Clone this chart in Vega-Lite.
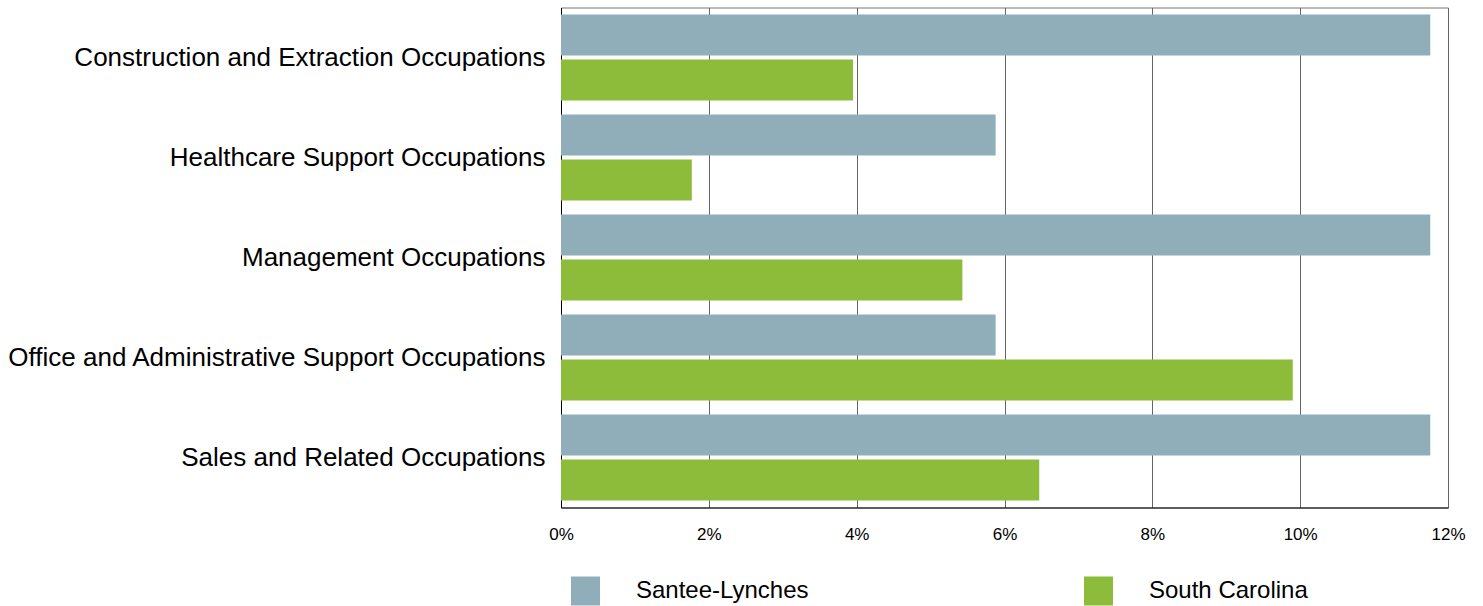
{
  "$schema": "https://vega.github.io/schema/vega-lite/v6.json",
  "autosize": {"type": "none"},
  "padding": {"left": 561, "top": 7.5, "right": 35, "bottom": 98.5},
  "width": 887,
  "height": 500,
  "background": "white",
  "data": {"values": [
    {"occupation": "Construction and Extraction Occupations", "region": "Santee-Lynches", "share": 0.1176},
    {"occupation": "Construction and Extraction Occupations", "region": "South Carolina", "share": 0.0395},
    {"occupation": "Healthcare Support Occupations", "region": "Santee-Lynches", "share": 0.0588},
    {"occupation": "Healthcare Support Occupations", "region": "South Carolina", "share": 0.0177},
    {"occupation": "Management Occupations", "region": "Santee-Lynches", "share": 0.1176},
    {"occupation": "Management Occupations", "region": "South Carolina", "share": 0.0543},
    {"occupation": "Office and Administrative Support Occupations", "region": "Santee-Lynches", "share": 0.0588},
    {"occupation": "Office and Administrative Support Occupations", "region": "South Carolina", "share": 0.099},
    {"occupation": "Sales and Related Occupations", "region": "Santee-Lynches", "share": 0.1176},
    {"occupation": "Sales and Related Occupations", "region": "South Carolina", "share": 0.0647}
  ]},
  "config": {
    "font": "Liberation Sans",
    "view": {"stroke": "#777777", "strokeWidth": 1}
  },
  "mark": {"type": "bar"},
  "encoding": {
    "y": {
      "field": "occupation", "type": "nominal", "sort": null, "title": null,
      "scale": {"paddingInner": 0.14, "paddingOuter": 0.07},
      "axis": {"labelFontSize": 26, "labelColor": "#000000", "labelPadding": 16, "ticks": false, "domainColor": "#000000", "labelLimit": 600}
    },
    "yOffset": {
      "field": "region", "type": "nominal",
      "scale": {"paddingInner": 0.09, "paddingOuter": 0}
    },
    "x": {
      "field": "share", "type": "quantitative", "title": null,
      "scale": {"domain": [0, 0.12], "nice": false},
      "axis": {"format": ".0%", "values": [0, 0.02, 0.04, 0.06, 0.08, 0.1, 0.12], "labelFontSize": 17, "labelColor": "#000000", "labelPadding": 19, "ticks": false, "domainColor": "#000000", "gridColor": "#666666", "gridOpacity": 1, "labelFlush": false}
    },
    "color": {
      "field": "region", "type": "nominal", "title": null,
      "scale": {"domain": ["Santee-Lynches", "South Carolina"], "range": ["#8FAEB9", "#8DBC3B"]},
      "legend": {"orient": "none", "legendX": 10, "legendY": 569, "direction": "horizontal", "columns": 2, "symbolType": "square", "symbolSize": 841, "symbolStrokeWidth": 0, "symbolOpacity": 1, "labelFontSize": 24, "labelColor": "#000000", "labelOffset": 36, "labelLimit": 400, "columnPadding": 275}
    }
  }
}
